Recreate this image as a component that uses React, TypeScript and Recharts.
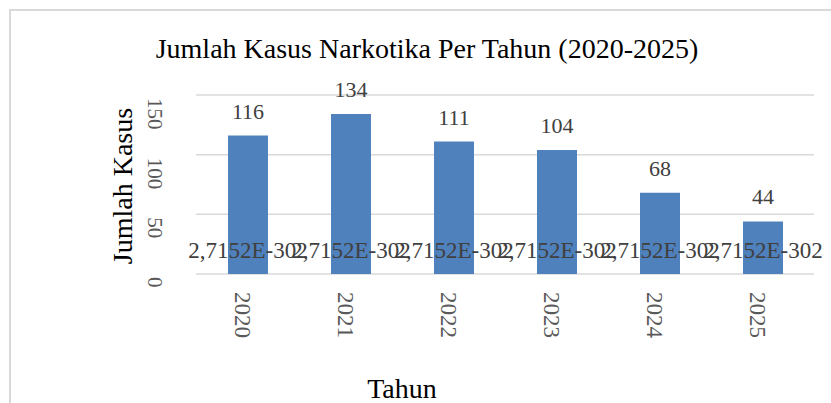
import { BarChart, Bar, XAxis, YAxis, CartesianGrid, LabelList } from "recharts";

const years = ["2020", "2021", "2022", "2023", "2024", "2025"];
const kasus = [116, 134, 111, 104, 68, 44];
// the odd near-zero labels Word drew at the bottom of each bar
const lowLabels = [
  "2,7152E-302", "2,7152E-302", "2,7152E-302",
  "2,7152E-302", "2,7152E-302", "2,7152E-302",
];
const yTicks = [0, 50, 100, 150];

const FONT = "'Liberation Serif', 'Times New Roman', serif";
const BAR_COLOR = "#4F81BD";

const data = years.map((year, i) => ({ year, kasus: kasus[i], low: lowLabels[i] }));

function YTick({ y, payload }: any) {
  return (
    <text
      x={155}
      y={y + 3}
      transform={`rotate(90 155 ${y + 3})`}
      textAnchor="start"
      dominantBaseline="central"
      fontFamily={FONT}
      fontSize={21}
      fill="#595959"
    >
      {payload.value}
    </text>
  );
}

function XTick({ x, payload }: any) {
  const cx = x - 5;
  return (
    <text
      x={cx}
      y={292}
      transform={`rotate(90 ${cx} 292)`}
      textAnchor="start"
      dominantBaseline="central"
      fontFamily={FONT}
      fontSize={23}
      fill="#595959"
    >
      {payload.value}
    </text>
  );
}

function TopLabel({ x, y, width, value }: any) {
  return (
    <text x={x + width / 2} y={y - 17} textAnchor="middle" fontFamily={FONT} fontSize={22} fill="#404040">
      {value}
    </text>
  );
}

function LowLabel({ x, y, width, height, value }: any) {
  return (
    <text x={x + width / 2} y={y + height - 16} textAnchor="middle" fontFamily={FONT} fontSize={23} fill="#404040">
      {value}
    </text>
  );
}

export default function App() {
  return (
    <div style={{ position: "absolute", left: 0, top: 0, width: 831, height: 403, overflow: "hidden", background: "#fff" }}>
      {/* chart frame, only top and left edges are in view */}
      <div
        style={{
          position: "absolute", left: 9, top: 9, right: -10, bottom: -10,
          borderTop: "2px solid #d9d9d9", borderLeft: "2px solid #d9d9d9",
        }}
      />
      <div style={{ position: "absolute", left: 0, top: 0 }}>
        <BarChart width={831} height={403} data={data} margin={{ top: 95, right: 17, bottom: 69, left: 146 }}>
          <CartesianGrid vertical={false} stroke="#d9d9d9" strokeWidth={1.5} />
          <XAxis dataKey="year" height={60} axisLine={false} tickLine={false} tick={<XTick />} interval={0} />
          <YAxis width={50} domain={[0, 150]} ticks={yTicks} axisLine={false} tickLine={false} tick={<YTick />} />
          <Bar dataKey="kasus" fill={BAR_COLOR} barSize={40} isAnimationActive={false}>
            <LabelList dataKey="kasus" content={<TopLabel />} />
            <LabelList dataKey="low" content={<LowLabel />} />
          </Bar>
        </BarChart>
      </div>
      <svg width={831} height={403} style={{ position: "absolute", left: 0, top: 0, pointerEvents: "none" }}>
        <text x={427} y={58} textAnchor="middle" fontFamily={FONT} fontSize={28} fill="#000">
          Jumlah Kasus Narkotika Per Tahun (2020-2025)
        </text>
        <text
          x={122}
          y={186}
          transform="rotate(-90 122 186)"
          textAnchor="middle"
          dominantBaseline="central"
          fontFamily={FONT}
          fontSize={28}
          fill="#000"
        >
          Jumlah Kasus
        </text>
        <text x={402} y={398} textAnchor="middle" fontFamily={FONT} fontSize={28} fill="#000">
          Tahun
        </text>
      </svg>
    </div>
  );
}
